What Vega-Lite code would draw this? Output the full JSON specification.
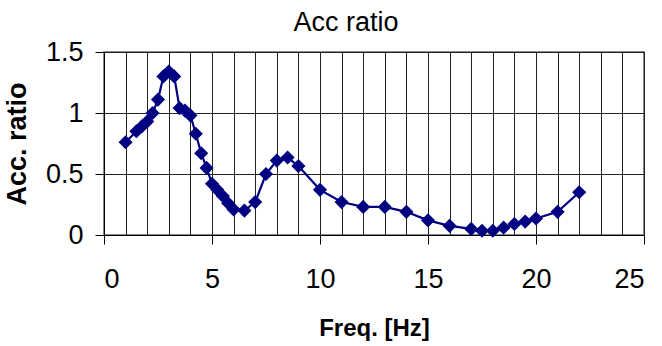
{
  "$schema": "https://vega.github.io/schema/vega-lite/v6.json",
  "width": 540,
  "height": 183,
  "autosize": {"type": "none"},
  "padding": {"left": 104, "top": 52, "right": 18, "bottom": 111},
  "background": "white",
  "title": {
    "text": "Acc ratio",
    "font": "Liberation Sans",
    "fontSize": 27,
    "fontWeight": "normal",
    "color": "black",
    "offset": 1,
    "dx": -28
  },
  "config": {
    "view": {"stroke": "#888888", "strokeWidth": 2},
    "axis": {
      "labelFont": "Liberation Sans",
      "labelFontSize": 27,
      "labelColor": "black",
      "titleFont": "Liberation Sans",
      "titleFontWeight": "bold",
      "titleColor": "black",
      "domainColor": "black",
      "domainWidth": 1,
      "tickColor": "black",
      "tickSize": 9,
      "gridColor": "#222222",
      "gridWidth": 1
    }
  },
  "data": {
    "values": [
      {"freq": 1, "ratio": 0.76},
      {"freq": 1.5, "ratio": 0.85},
      {"freq": 1.75, "ratio": 0.89},
      {"freq": 2, "ratio": 0.93},
      {"freq": 2.25, "ratio": 1.0},
      {"freq": 2.5, "ratio": 1.11},
      {"freq": 2.75, "ratio": 1.3},
      {"freq": 3, "ratio": 1.34},
      {"freq": 3.25, "ratio": 1.3},
      {"freq": 3.5, "ratio": 1.04},
      {"freq": 3.75, "ratio": 1.02},
      {"freq": 4, "ratio": 0.98},
      {"freq": 4.25, "ratio": 0.83},
      {"freq": 4.5, "ratio": 0.67},
      {"freq": 4.75, "ratio": 0.55},
      {"freq": 5, "ratio": 0.42},
      {"freq": 5.25, "ratio": 0.37},
      {"freq": 5.5, "ratio": 0.32},
      {"freq": 5.75, "ratio": 0.26},
      {"freq": 6, "ratio": 0.21},
      {"freq": 6.5, "ratio": 0.2},
      {"freq": 7, "ratio": 0.27},
      {"freq": 7.5, "ratio": 0.5},
      {"freq": 8, "ratio": 0.61},
      {"freq": 8.5, "ratio": 0.635},
      {"freq": 9, "ratio": 0.565},
      {"freq": 10, "ratio": 0.37},
      {"freq": 11, "ratio": 0.27},
      {"freq": 12, "ratio": 0.23},
      {"freq": 13, "ratio": 0.23},
      {"freq": 14, "ratio": 0.19},
      {"freq": 15, "ratio": 0.12},
      {"freq": 16, "ratio": 0.075},
      {"freq": 17, "ratio": 0.05},
      {"freq": 17.5, "ratio": 0.035},
      {"freq": 18, "ratio": 0.035},
      {"freq": 18.5, "ratio": 0.06},
      {"freq": 19, "ratio": 0.09},
      {"freq": 19.5, "ratio": 0.11},
      {"freq": 20, "ratio": 0.135},
      {"freq": 21, "ratio": 0.19},
      {"freq": 22, "ratio": 0.35}
    ]
  },
  "encoding": {
    "x": {
      "field": "freq",
      "type": "quantitative",
      "scale": {"domain": [0, 25], "nice": false, "zero": false},
      "axis": {
        "title": "Freq. [Hz]",
        "titleFontSize": 24,
        "values": [0, 1, 2, 3, 4, 5, 6, 7, 8, 9, 10, 11, 12, 13, 14, 15, 16, 17, 18, 19, 20, 21, 22, 23, 24, 25],
        "labelExpr": "datum.value % 5 === 0 ? datum.label : ''",
        "tickOpacity": {"condition": {"test": "datum.value % 5 === 0", "value": 1}, "value": 0},
        "labelPadding": 22,
        "titlePadding": 24
      }
    },
    "y": {
      "field": "ratio",
      "type": "quantitative",
      "scale": {"domain": [0, 1.5], "nice": false},
      "axis": {
        "title": "Acc. ratio",
        "titleFontSize": 27,
        "values": [0, 0.5, 1, 1.5],
        "format": "~g",
        "labelPadding": 12,
        "titlePadding": 14
      }
    }
  },
  "layer": [
    {"mark": {"type": "line", "color": "#000080", "strokeWidth": 2.2}},
    {"mark": {"type": "point", "shape": "diamond", "filled": true, "size": 200, "color": "#000080", "opacity": 1}}
  ]
}
